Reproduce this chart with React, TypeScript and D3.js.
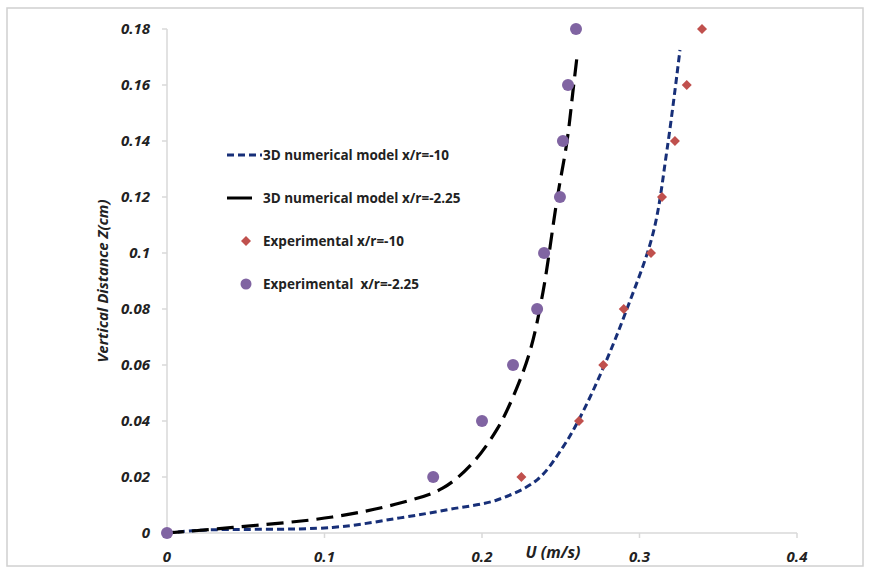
import React from 'react';
import * as d3 from 'd3';

// velocity profiles, U (m/s) vs Z (cm)
const modelFar = [
  [0, 0], [0.021, 0.001], [0.105, 0.002], [0.148, 0.0054], [0.18, 0.0085],
  [0.2095, 0.0118], [0.235, 0.019], [0.2514, 0.0307], [0.262, 0.041],
  [0.277, 0.059], [0.292, 0.08], [0.3086, 0.107], [0.3175, 0.137], [0.3257, 0.1725],
];
const modelNear = [
  [0, 0], [0.042, 0.002], [0.105, 0.0057], [0.148, 0.0107], [0.175, 0.016],
  [0.194, 0.025], [0.2095, 0.037], [0.22, 0.049], [0.2305, 0.065], [0.2387, 0.086],
  [0.2476, 0.119], [0.254, 0.14], [0.258, 0.159], [0.2603, 0.17],
];
const expFar = [
  [0.225, 0.02], [0.2616, 0.04], [0.277, 0.06], [0.29, 0.08], [0.3073, 0.1],
  [0.3143, 0.12], [0.3225, 0.14], [0.33, 0.16], [0.3397, 0.18],
];
const expNear = [
  [0, 0], [0.169, 0.02], [0.2, 0.04], [0.2197, 0.06], [0.235, 0.08], [0.2394, 0.1],
  [0.2495, 0.12], [0.2514, 0.14], [0.2546, 0.16], [0.2597, 0.18],
];
const xTicks = [0, 0.1, 0.2, 0.3, 0.4];
const yTicks = [0, 0.02, 0.04, 0.06, 0.08, 0.1, 0.12, 0.14, 0.16, 0.18];
const legendLabels = [
  '3D numerical model x/r=-10',
  '3D numerical model x/r=-2.25',
  'Experimental x/r=-10',
  'Experimental  x/r=-2.25',
];

const App = () => {
  const x = d3.scaleLinear().domain([0, 0.4]).range([167, 797]);
  const y = d3.scaleLinear().domain([0, 0.18]).range([533, 29]);

  const line = d3.line<number[]>()
    .x(d => x(d[0]))
    .y(d => y(d[1]))
    .curve(d3.curveCatmullRom);

  const diamond = d3.symbol().type(d3.symbolDiamond2).size(64)();
  const font = 'Open Sans, sans-serif';
  const axisColor = '#d9d9d9';
  const blue = '#172f78';
  const legendY = [155, 198, 241, 284];

  return (
    <svg width={870} height={571} style={{ position: 'absolute', left: 0, top: 0 }}>
      <rect x={0} y={0} width={870} height={571} fill="#fff" />
      <rect x={7} y={8} width={856} height={558} fill="none" stroke="#d0d0d0" strokeWidth={1.5} />

      {/* axes */}
      <line x1={x(0)} x2={x(0)} y1={y(0.18)} y2={y(0)} stroke={axisColor} strokeWidth={1.5} />
      <line x1={x(0)} x2={x(0.4)} y1={y(0)} y2={y(0)} stroke={axisColor} strokeWidth={1.5} />
      {yTicks.map(t => (
        <g key={'y' + t}>
          <line x1={x(0) - 5} x2={x(0)} y1={y(t)} y2={y(t)} stroke={axisColor} strokeWidth={1.5} />
          <text x={150} y={y(t) + 5} textAnchor="end" fontFamily={font} fontSize={15}
            fontWeight="bold" fontStyle="italic" fill="#222">{String(t)}</text>
        </g>
      ))}
      {xTicks.map(t => (
        <g key={'x' + t}>
          <line x1={x(t)} x2={x(t)} y1={y(0)} y2={y(0) + 5} stroke={axisColor} strokeWidth={1.5} />
          <text x={x(t)} y={562} textAnchor="middle" fontFamily={font} fontSize={15}
            fontWeight="bold" fontStyle="italic" fill="#222">{String(t)}</text>
        </g>
      ))}
      <text x={553} y={558} textAnchor="middle" fontFamily={font} fontSize={16}
        fontWeight="bold" fontStyle="italic" fill="#222">U (m/s)</text>
      <text transform="translate(108,281) rotate(-90)" textAnchor="middle" fontFamily={font}
        fontSize={15} fontWeight="bold" fontStyle="italic" fill="#222">Vertical Distance Z(cm)</text>

      {/* model lines */}
      <path d={line(modelFar) || ''} fill="none" stroke={blue} strokeWidth={3} strokeDasharray="7,4" />
      <path d={line(modelNear) || ''} fill="none" stroke="#000" strokeWidth={3.2} strokeDasharray="17,8" />

      {/* experiments */}
      {expFar.map((d, i) => (
        <path key={'f' + i} d={diamond || ''} transform={`translate(${x(d[0])},${y(d[1])})`} fill="#c0504d" />
      ))}
      {expNear.map((d, i) => (
        <circle key={'n' + i} cx={x(d[0])} cy={y(d[1])} r={6} fill="#8064a2" />
      ))}

      {/* legend */}
      <line x1={227} x2={262} y1={legendY[0]} y2={legendY[0]} stroke={blue} strokeWidth={3} strokeDasharray="7,4" />
      <line x1={227} x2={252} y1={legendY[1]} y2={legendY[1]} stroke="#000" strokeWidth={3} />
      <path d={diamond || ''} transform={`translate(246,${legendY[2]})`} fill="#c0504d" />
      <circle cx={246} cy={legendY[3]} r={5.5} fill="#8064a2" />
      {legendLabels.map((l, i) => (
        <text key={l} x={263} y={legendY[i] + 5} fontFamily={font} fontSize={13.5}
          fontWeight="bold" fill="#222" style={{ whiteSpace: 'pre' }}>{l}</text>
      ))}
    </svg>
  );
};

export default App;
